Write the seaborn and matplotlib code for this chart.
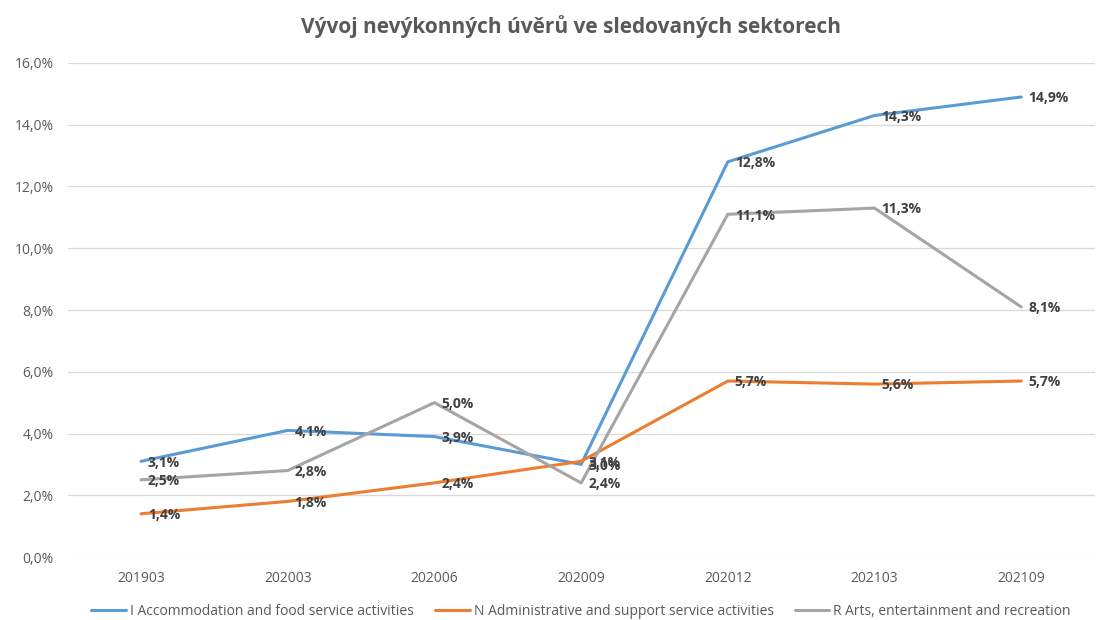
import pandas as pd
import matplotlib
matplotlib.use("Agg")
import matplotlib.pyplot as plt
import seaborn as sns

# data
periods = ["201903", "202003", "202006", "202009", "202012", "202103", "202109"]
accommodation = [3.1, 4.1, 3.9, 3.0, 12.8, 14.3, 14.9]
administrative = [1.4, 1.8, 2.4, 3.1, 5.7, 5.6, 5.7]
arts = [2.5, 2.8, 5.0, 2.4, 11.1, 11.3, 8.1]

series_names = [
    "I Accommodation and food service activities",
    "N Administrative and support service activities",
    "R Arts, entertainment and recreation",
]
colors = ["#5B9BD5", "#ED7D31", "#A5A5A5"]

frames = []
for name, vals in zip(series_names, [accommodation, administrative, arts]):
    frames.append(pd.DataFrame({"period": periods, "value": vals, "series": name}))
df = pd.concat(frames, ignore_index=True)

sns.set_style("white")
plt.rcParams["font.family"] = ["Open Sans", "DejaVu Sans"]

fig = plt.figure(figsize=(11.09, 6.2), dpi=100)
ax = fig.add_axes([0.061, 0.1016, 0.926, 0.7968])

sns.lineplot(data=df, x="period", y="value", hue="series", palette=colors,
             linewidth=2.2, sort=False, ax=ax)

# data labels
for name in series_names:
    sub = df[df["series"] == name]
    for i, v in enumerate(sub["value"]):
        ax.annotate(f"{v:.1f}%".replace(".", ","), (i, v), xytext=(5, -1),
                    textcoords="offset points", ha="left", va="center",
                    fontsize=10, fontweight="bold", color="#404040")

ax.set_xlim(-0.5, 6.5)
ax.set_ylim(0, 16)
ax.set_yticks(range(0, 17, 2))
ax.set_yticklabels([f"{t:.1f}%".replace(".", ",") for t in range(0, 17, 2)])
ax.grid(axis="y", color="#D9D9D9", linewidth=0.9)
ax.set_axisbelow(True)
for s in ax.spines.values():
    s.set_visible(False)
ax.tick_params(axis="both", length=0, labelsize=10, labelcolor="#595959", pad=10)
ax.set_xlabel("")
ax.set_ylabel("")

fig.suptitle("Vývoj nevýkonných úvěrů ve sledovaných sektorech", x=0.515, y=0.975,
             fontsize=15, fontweight="bold", color="#595959")

handles, labels = ax.get_legend_handles_labels()
ax.legend(handles, labels, loc="center", bbox_to_anchor=(0.5, -0.11), ncol=3,
          frameon=False, fontsize=10, labelcolor="#595959", handlelength=2.5,
          handletextpad=0.3, columnspacing=1.5, borderpad=0.2)

fig.savefig("out.png", dpi=100)
plt.close(fig)
